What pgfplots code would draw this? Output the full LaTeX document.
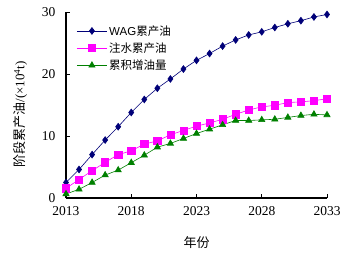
\documentclass[border=0pt]{standalone}
\usepackage{pgfplots}
\pgfplotsset{compat=1.18}
\usepackage{fontspec}
\setmainfont{Liberation Serif}
\newfontfamily\cjk{Noto Sans CJK SC}
\newfontfamily\arial{Liberation Sans}
\definecolor{wag}{RGB}{0,0,120}
\definecolor{zs}{RGB}{255,0,255}
\definecolor{zy}{RGB}{0,128,0}
\begin{document}
\begin{tikzpicture}
\begin{axis}[
  at={(0,0)}, anchor=origin,
  scale only axis, width=261pt, height=186pt,
  xmin=2013, xmax=2033, ymin=0, ymax=30,
  axis x line=bottom, axis y line=left,
  axis line style={line width=1.2pt,-},
  tick align=inside,
  major tick length=4pt,
  tick style={line width=1pt,black},
  xtick={2013,2018,2023,2028,2033},
  ytick={0,10,20,30},
  xticklabel style={/pgf/number format/1000 sep={}, yshift=-5pt},
  yticklabel style={xshift=-7pt},
  /pgf/number format/assume math mode=true,
  tick label style={font=\fontsize{13.5}{15}\selectfont},
  xlabel={\cjk 年份}, xlabel style={font=\fontsize{13}{15}\selectfont, at={(axis description cs:0.5,-0.24)}, anchor=center},
  ylabel={{\cjk 阶段累产油}/(×10\textsuperscript{4}t)},
  ylabel style={font=\fontsize{13}{15}\selectfont, at={(axis description cs:-0.175,0.45)}, anchor=center},
  legend style={draw=none, fill=none, at={(axis description cs:0.04,0.94)}, anchor=north west, font=\fontsize{11.5}{13}\selectfont, row sep=2pt, inner sep=0pt},
  legend image code/.code={\draw[#1] (0pt,0pt) -- (30pt,0pt); \draw[#1,only marks] plot coordinates {(15pt,0pt)};},
  legend cell align=left,
  clip=false,
]
\addplot[wag, line width=0.6pt, mark=diamond*, mark size=3.4pt, mark options={fill=wag}] coordinates {
(2013,2.5)(2014,4.6)(2015,7.0)(2016,9.35)(2017,11.5)(2018,13.8)(2019,15.9)(2020,17.7)(2021,19.2)(2022,20.8)(2023,22.2)(2024,23.3)(2025,24.5)(2026,25.5)(2027,26.3)(2028,26.8)(2029,27.5)(2030,28.1)(2031,28.6)(2032,29.2)(2033,29.6)};
\addlegendentry{\arial WAG\cjk 累产油}
\addplot[zs, line width=0.6pt, mark=square*, mark size=3.6pt, mark options={fill=zs}] coordinates {
(2013,1.55)(2014,3.0)(2015,4.4)(2016,5.75)(2017,7.0)(2018,7.6)(2019,8.7)(2020,9.2)(2021,10.2)(2022,10.9)(2023,11.6)(2024,12.1)(2025,12.7)(2026,13.5)(2027,14.2)(2028,14.7)(2029,14.95)(2030,15.4)(2031,15.5)(2032,15.7)(2033,16.0)};
\addlegendentry{\cjk 注水累产油}
\addplot[zy, line width=0.6pt, mark=triangle*, mark size=3.6pt, mark options={fill=zy}] coordinates {
(2013,0.65)(2014,1.4)(2015,2.5)(2016,3.7)(2017,4.5)(2018,5.7)(2019,6.9)(2020,8.2)(2021,8.8)(2022,9.6)(2023,10.4)(2024,11.1)(2025,11.8)(2026,12.5)(2027,12.5)(2028,12.6)(2029,12.7)(2030,13.0)(2031,13.3)(2032,13.5)(2033,13.4)};
\addlegendentry{\cjk 累积增油量}
\end{axis}
\pgfresetboundingbox
\path[use as bounding box] (-66pt,-57pt) rectangle (290pt,198pt);
\end{tikzpicture}
\end{document}
